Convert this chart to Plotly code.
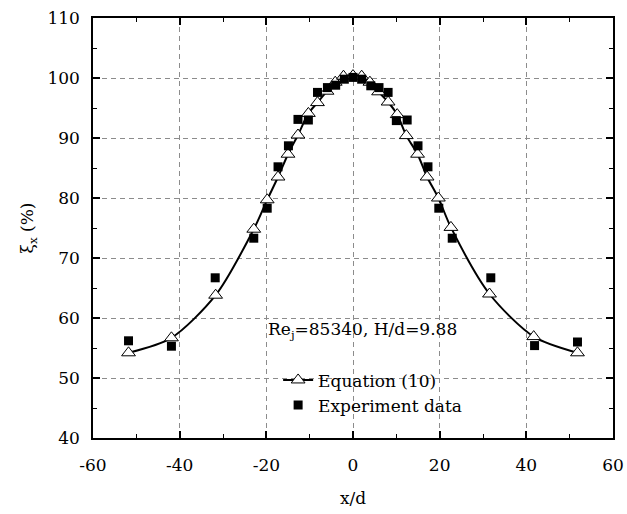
import plotly.graph_objects as go

# Equation (10) points (triangles)
eq_x = [-51.8, -41.9, -31.7, -22.9, -19.8, -17.3, -15.0, -12.7, -10.3, -8.2, -6.0, -4.1, -2.2, 0.0,
        2.0, 3.9, 5.9, 8.1, 10.2, 12.3, 14.9, 17.1, 19.7, 22.6, 31.5, 41.7, 51.8]
eq_y = [54.2, 56.7, 63.8, 74.8, 79.7, 83.5, 87.3, 90.5, 94.1, 95.9, 97.8, 99.3, 100.3, 100.4,
        100.3, 99.3, 97.7, 96.0, 93.9, 90.4, 87.3, 83.5, 80.0, 75.1, 64.0, 56.9, 54.2]

# Experiment data (squares)
ex_x = [-51.8, -41.9, -31.8, -22.9, -19.8, -17.3, -14.9, -12.7, -10.3, -8.2, -5.9, -4.0, -2.0, 0.0,
        2.0, 4.1, 6.0, 8.1, 10.0, 12.5, 15.0, 17.3, 19.8, 22.9, 31.8, 41.9, 51.8]
ex_y = [56.2, 55.3, 66.7, 73.3, 78.3, 85.2, 88.7, 93.1, 93.0, 97.6, 98.4, 98.8, 99.8, 100.1,
        99.8, 98.7, 98.4, 97.6, 92.9, 93.0, 88.7, 85.2, 78.3, 73.3, 66.7, 55.4, 56.0]

x_ticks = [-60, -40, -20, 0, 20, 40, 60]
y_ticks = [40, 50, 60, 70, 80, 90, 100, 110]

FONT = "DejaVu Serif"
FS = 17

fig = go.Figure()
fig.add_trace(go.Scatter(
    x=eq_x, y=eq_y, mode="lines+markers", name="Equation (10)",
    line=dict(color="black", width=2, shape="spline", smoothing=0.8),
    marker=dict(symbol="triangle-up", size=12, color="white",
                line=dict(color="black", width=1)),
))
fig.add_trace(go.Scatter(
    x=ex_x, y=ex_y, mode="markers", name="Experiment data",
    marker=dict(symbol="square", size=9, color="black",
                line=dict(color="black", width=0)),
))

axis_common = dict(
    showline=True, linecolor="black", linewidth=1.5, mirror="allticks",
    ticks="inside", ticklen=7, tickwidth=1.5, tickcolor="black",
    showgrid=True, gridcolor="#8c8c8c", gridwidth=1, griddash="5px,4px",
    zeroline=False, automargin=False,
    tickfont=dict(family=FONT, size=FS, color="black"),
)

fig.update_xaxes(
    range=[-60, 60], tickvals=x_ticks, ticktext=[str(v) for v in x_ticks],
    minor=dict(ticks="inside", ticklen=4, tickwidth=1, tickcolor="black", dtick=10, showgrid=False),
    title=dict(text="x/d", font=dict(family=FONT, size=FS, color="black"), standoff=18),
    ticklabelstandoff=11,
    **axis_common,
)
fig.update_yaxes(
    range=[40, 110], tickvals=y_ticks, ticktext=[str(v) for v in y_ticks],
    minor=dict(ticks="inside", ticklen=4, tickwidth=1, tickcolor="black", dtick=5, showgrid=False),
    title=dict(text="ξ<sub>x</sub> (%)", font=dict(family=FONT, size=FS, color="black"), standoff=9),
    ticklabelstandoff=8,
    **axis_common,
)

fig.add_annotation(
    xref="paper", yref="paper", x=0.332, y=0.257, xanchor="left", yanchor="middle",
    text="Re<sub>j</sub>=85340, H/d=9.88", showarrow=False,
    font=dict(family=FONT, size=FS, color="black"),
)

fig.update_layout(
    width=627, height=514,
    margin=dict(l=93, r=14, t=18, b=76),
    paper_bgcolor="white", plot_bgcolor="white",
    font=dict(family=FONT, size=FS, color="black"),
    showlegend=True,
    legend=dict(x=0.356, y=0.18, xanchor="left", yanchor="top",
                bgcolor="rgba(0,0,0,0)", borderwidth=0,
                font=dict(family=FONT, size=FS, color="black"),
                itemwidth=30, tracegroupgap=0),
)

fig.write_html("out.html")
